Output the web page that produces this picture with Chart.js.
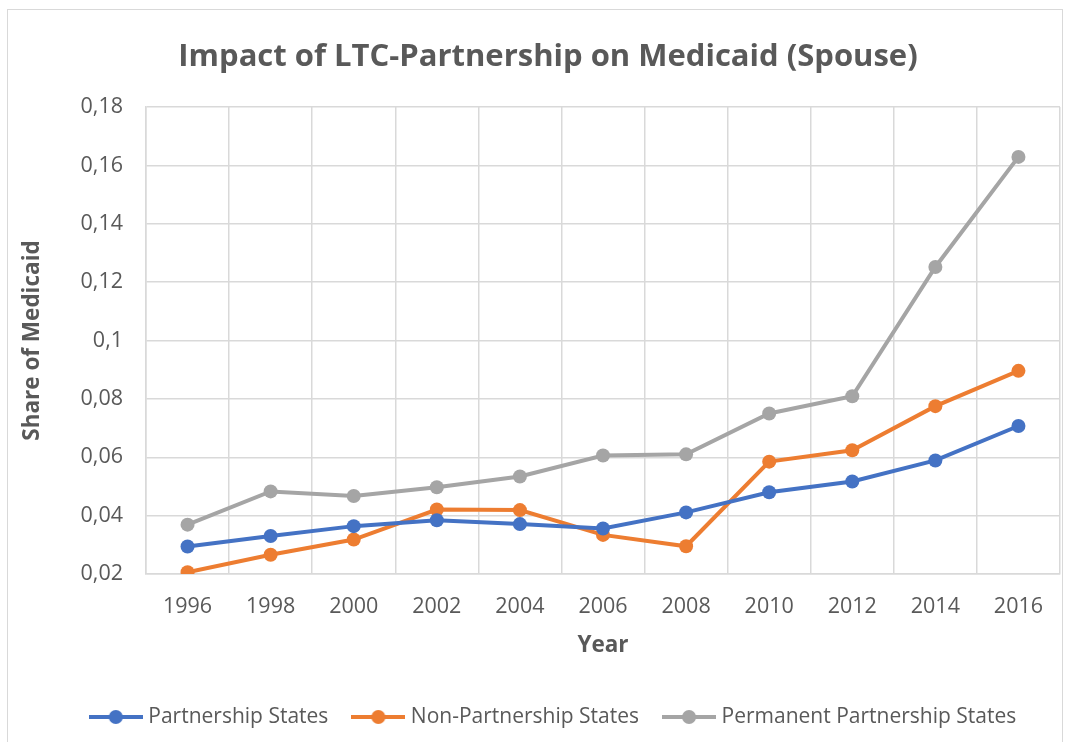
<!DOCTYPE html>
<html>
<head>
<meta charset="utf-8">
<script src="https://cdn.jsdelivr.net/npm/chart.js@4/dist/chart.umd.min.js"></script>
<style>
  html, body { margin: 0; padding: 0; background: #fff; overflow: hidden; }
  #wrap { position: relative; width: 1073px; height: 742px; }
  #frame { position: absolute; left: 7px; top: 9px; width: 1054px; height: 800px;
           border: 1px solid #d9d9d9; pointer-events: none; }
</style>
</head>
<body>
<div id="wrap">
  <canvas id="chart" width="1073" height="742"></canvas>
  <div id="frame"></div>
</div>
<script>
const YEARS = ['1996', '1998', '2000', '2002', '2004', '2006', '2008', '2010', '2012', '2014', '2016'];

const PARTNERSHIP = [0.0294, 0.0330, 0.0364, 0.0384, 0.0371, 0.0356, 0.0411, 0.0480, 0.0517, 0.0589, 0.0707];
const NON_PARTNERSHIP = [0.0206, 0.0266, 0.0318, 0.0421, 0.0419, 0.0334, 0.0295, 0.0585, 0.0624, 0.0775, 0.0896];
const PERMANENT = [0.0369, 0.0483, 0.0467, 0.0497, 0.0534, 0.0606, 0.0610, 0.0750, 0.0809, 0.1252, 0.1629];

const Y_MIN = 0.02, Y_MAX = 0.18, Y_STEP = 0.02;

const COLORS = ['#4472c4', '#ed7d31', '#a5a5a5'];
const TEXT = '#595959';
const GRID = '#d9d9d9';
const FONT = '"Open Sans", sans-serif';

// legend marker: short line with a dot in the middle, like Excel
function legendIcon(col) {
  const c = document.createElement('canvas');
  c.width = 54; c.height = 16;
  const g = c.getContext('2d');
  g.strokeStyle = col;
  g.lineWidth = 4;
  g.beginPath(); g.moveTo(0, 8); g.lineTo(54, 8); g.stroke();
  g.fillStyle = col;
  g.beginPath(); g.arc(27, 8, 7, 0, Math.PI * 2); g.fill();
  return c;
}

function series(label, data, i) {
  return {
    label: label,
    data: data,
    borderColor: COLORS[i],
    backgroundColor: COLORS[i],
    borderWidth: 4,
    pointRadius: 7,
    pointHoverRadius: 7,
    pointBorderWidth: 0,
    tension: 0,
  };
}

const defaultLabels = Chart.defaults.plugins.legend.labels.generateLabels;

// title and legend in the original sit a bit right of the canvas centre
const shiftBoxes = {
  id: 'shiftBoxes',
  afterLayout(chart) {
    chart.legend.left += 21;
    chart.legend.right += 21;
    chart.titleBlock.left += 14;
    chart.titleBlock.right += 14;
  },
};

new Chart(document.getElementById('chart'), {
  type: 'line',
  data: {
    labels: YEARS,
    datasets: [
      series('Partnership States', PARTNERSHIP, 0),
      series('Non-Partnership States', NON_PARTNERSHIP, 1),
      series('Permanent Partnership States', PERMANENT, 2),
    ],
  },
  plugins: [shiftBoxes],
  options: {
    responsive: false,
    animation: false,
    layout: { padding: { left: 8, right: 13, top: 10, bottom: 4.5 } },
    plugins: {
      title: {
        display: true,
        text: 'Impact of LTC-Partnership on Medicaid (Spouse)',
        color: TEXT,
        font: { family: FONT, size: 31, weight: 'bold' },
        padding: { top: 29, bottom: 30.8 },
      },
      legend: {
        position: 'bottom',
        labels: {
          color: TEXT,
          font: { family: FONT, size: 21 },
          usePointStyle: true,
          pointStyleWidth: 44,
          padding: 28,
          generateLabels: function (chart) {
            return defaultLabels(chart).map(function (item, i) {
              item.pointStyle = legendIcon(COLORS[i]);
              return item;
            });
          },
        },
      },
      tooltip: { enabled: false },
    },
    scales: {
      x: {
        offset: true,
        grid: { color: GRID, lineWidth: 1.5, offset: true, drawTicks: false },
        border: { color: GRID, width: 1.5 },
        ticks: { color: TEXT, font: { family: FONT, size: 21.5 }, padding: 19.5, maxRotation: 0 },
        title: {
          display: true,
          text: 'Year',
          color: TEXT,
          font: { family: FONT, size: 22.5, weight: 'bold' },
          padding: { top: 0, bottom: 19 },
        },
        afterFit: function (scale) { scale.height = 104.5; },
      },
      y: {
        min: Y_MIN,
        max: Y_MAX,
        grid: { color: GRID, lineWidth: 1.5, drawTicks: false },
        border: { color: GRID, width: 1.5 },
        ticks: {
          stepSize: Y_STEP,
          color: TEXT,
          font: { family: FONT, size: 21.5 },
          padding: 23,
          callback: function (v) { return String(Number(v.toFixed(2))).replace('.', ','); },
        },
        title: {
          display: true,
          text: 'Share of Medicaid',
          color: TEXT,
          font: { family: FONT, size: 22.5, weight: 'bold' },
          padding: { top: 11.5, bottom: 0 },
        },
        afterFit: function (scale) { scale.width = 138; },
      },
    },
  },
});
</script>
</body>
</html>
